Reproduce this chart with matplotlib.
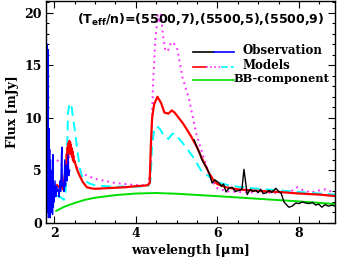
import numpy as np
import matplotlib
matplotlib.use('Agg')
import matplotlib.pyplot as plt
from matplotlib.ticker import MultipleLocator

# Наблюдения (синий участок и чёрный участок)
obs_blue_x = [1.82, 1.83, 1.84, 1.85, 1.86, 1.87, 1.88, 1.89, 1.90, 1.91, 1.92, 1.93,
              1.94, 1.95, 1.96, 1.97, 1.98, 1.99, 2.00, 2.02, 2.04, 2.06, 2.08, 2.10,
              2.12, 2.14, 2.16, 2.18, 2.19, 2.20, 2.22, 2.24, 2.26, 2.28, 2.30, 2.32,
              2.34, 2.36, 2.38]
obs_blue_y = [3.0, 17.0, 1.0, 16.5, 0.5, 9.0, 2.0, 7.0, 0.5, 6.0, 1.0, 5.0,
              1.5, 4.0, 0.8, 6.5, 1.5, 3.5, 2.0, 4.0, 2.5, 3.5, 3.0, 3.2,
              2.5, 4.0, 3.0, 6.5, 7.2, 3.5, 3.8, 3.0, 6.0, 3.5, 5.5, 4.0,
              6.5, 4.5, 5.0]

obs_x = [5.43, 5.5, 5.56, 5.62, 5.68, 5.73, 5.8, 5.87, 5.94, 6.04, 6.1, 6.15, 6.21,
         6.28, 6.36, 6.44, 6.53, 6.6, 6.65, 6.7, 6.73, 6.8, 6.87, 6.94, 7.0, 7.06,
         7.12, 7.19, 7.26, 7.33, 7.43, 7.5, 7.56, 7.63, 7.7, 7.75, 7.83, 7.92, 8.0,
         8.08, 8.16, 8.25, 8.33, 8.41, 8.48, 8.56, 8.64, 8.72, 8.8, 8.88]
obs_y = [7.9, 7.2, 6.7, 6.0, 5.6, 5.3, 4.7, 3.8, 4.1, 3.8, 3.5, 3.7, 2.95,
         3.3, 3.4, 3.0, 3.1, 3.2, 5.1, 3.6, 2.7, 3.2, 3.0, 3.1, 2.9, 3.2,
         2.8, 2.85, 3.1, 2.9, 3.3, 3.0, 2.85, 2.0, 1.7, 1.5, 1.6, 1.9, 1.85,
         2.0, 1.9, 1.85, 1.95, 1.7, 1.8, 1.5, 1.75, 1.6, 1.7, 1.6]

# Модель (5500,7) - красная
red_x = [2.07, 2.12, 2.18, 2.22, 2.26, 2.29, 2.31, 2.32, 2.33, 2.34, 2.35, 2.36, 2.37,
         2.38, 2.39, 2.40, 2.41, 2.42, 2.43, 2.44, 2.45, 2.46, 2.47, 2.48, 2.50,
         2.55, 2.6, 2.7, 2.8, 2.9, 3.0, 3.25, 3.5, 3.75, 4.0, 4.2,
         4.3, 4.34, 4.37, 4.40, 4.45, 4.53, 4.62, 4.70, 4.80, 4.88, 4.95, 5.05, 5.15,
         5.25, 5.36, 5.5, 5.6, 5.7, 5.8, 5.9, 6.0, 6.2, 6.5, 7.0, 7.5, 8.0, 8.5, 8.9]
red_y = [3.6, 3.4, 3.5, 3.2, 4.5, 5.4, 6.6, 5.9, 7.2, 6.3, 7.6, 6.6, 7.8,
         6.9, 7.7, 6.8, 7.4, 6.5, 7.1, 6.3, 6.8, 6.0, 6.4, 5.8, 5.9,
         5.2, 4.7, 3.9, 3.4, 3.3, 3.25, 3.3, 3.35, 3.4, 3.5, 3.55,
         3.6, 3.8, 7.5, 10.0, 11.3, 12.0, 11.4, 10.5, 10.4, 10.7, 10.5, 10.0, 9.5,
         8.9, 8.2, 7.2, 6.3, 5.5, 4.7, 4.1, 3.7, 3.4, 3.2, 3.05, 2.95, 2.8, 2.7, 2.55]

# Модель (5500,5) - голубая
cyan_x = [2.07, 2.12, 2.18, 2.24, 2.28, 2.31, 2.34, 2.37, 2.40, 2.43, 2.46, 2.50, 2.55,
          2.6, 2.65, 2.7, 2.8, 2.9, 3.0, 3.25, 3.5, 4.0, 4.3, 4.36, 4.40, 4.45, 4.52,
          4.6, 4.7, 4.8, 4.9, 5.0, 5.15, 5.4, 5.6, 5.8, 6.0, 6.25, 6.5, 7.0, 7.5, 8.0,
          8.5, 8.9]
cyan_y = [2.6, 2.5, 2.4, 2.2, 3.0, 6.0, 10.5, 11.2, 10.8, 11.0, 10.0, 9.0, 7.5,
          6.0, 4.8, 4.3, 3.9, 3.7, 3.6, 3.5, 3.45, 3.45, 3.5, 4.0, 7.5, 8.8, 9.2,
          8.9, 8.2, 8.0, 8.5, 8.3, 7.6, 6.3, 5.0, 4.4, 3.9, 3.6, 3.45, 3.25, 3.1, 2.95,
          2.8, 2.7]

# Модель (5500,9) - пурпурная
mag_x = [2.07, 2.12, 2.18, 2.24, 2.29, 2.34, 2.38, 2.41, 2.45, 2.5, 2.6, 2.8, 3.0,
         3.25, 3.5, 4.0, 4.3, 4.36, 4.42, 4.48, 4.54, 4.58, 4.62, 4.66, 4.72, 4.78,
         4.87, 4.95, 5.02, 5.14, 5.31, 5.48, 5.68, 5.85, 6.0, 6.25, 6.5, 7.0, 7.5,
         7.8, 7.95, 8.1, 8.3, 8.5, 8.65, 8.9]
mag_y = [6.0, 5.8, 5.5, 5.3, 5.2, 5.5, 6.5, 6.8, 6.3, 5.8, 5.0, 4.5, 4.2,
         4.0, 3.8, 3.6, 3.6, 5.0, 13.0, 17.5, 19.8, 19.0, 19.8, 18.0, 16.5, 16.3,
         17.2, 17.0, 16.5, 13.9, 11.7, 8.5, 6.0, 4.1, 3.3, 3.0, 2.95, 2.9, 2.85,
         3.0, 3.4, 3.1, 2.9, 3.1, 3.2, 2.8]

# Компонента чёрного тела
bb_x = [2.05, 2.25, 2.5, 2.75, 3.0, 3.5, 4.0, 4.5, 5.0, 6.0, 7.0, 8.0, 8.9]
bb_y = [1.15, 1.55, 1.9, 2.2, 2.4, 2.65, 2.8, 2.85, 2.78, 2.55, 2.3, 2.05, 1.8]

serif = 'DejaVu Serif'
magenta = '#ff30ff'
green = '#00e000'

fig = plt.figure(figsize=(3.37, 2.58), dpi=100)
ax = fig.add_axes([0.1365, 0.1357, 0.8575, 0.8603])

ax.plot(bb_x, bb_y, color=green, lw=1.4)
ax.plot(mag_x, mag_y, color=magenta, lw=1.4, ls=(0, (1, 2)))
ax.plot(cyan_x, cyan_y, color='cyan', lw=1.4, ls=(0, (5, 3)))
ax.plot(red_x, red_y, color='red', lw=1.6)
ax.plot(obs_blue_x, obs_blue_y, color='blue', lw=1.0)
ax.plot(obs_x, obs_y, color='black', lw=1.0)

ax.set_xlim(1.8, 8.88)
ax.set_ylim(0, 21.1)
ax.xaxis.set_major_locator(MultipleLocator(2))
ax.xaxis.set_minor_locator(MultipleLocator(0.5))
ax.yaxis.set_major_locator(MultipleLocator(5))
ax.yaxis.set_minor_locator(MultipleLocator(1))
ax.tick_params(which='both', direction='in', top=True, right=True, width=0.8)
ax.tick_params(which='major', length=5, labelsize=9, pad=3)
ax.tick_params(which='minor', length=2.5)
for lab in ax.get_xticklabels() + ax.get_yticklabels():
    lab.set_fontfamily(serif)
    lab.set_fontweight('bold')
for s in ax.spines.values():
    s.set_linewidth(1.0)

ax.set_xlabel(r'wavelength [$\mathbf{\mu}$m]', fontfamily=serif, fontweight='bold',
              fontsize=9, labelpad=1)
ax.set_ylabel('Flux [mJy]', fontfamily=serif, fontweight='bold', fontsize=9, labelpad=4)

ax.text(0.535, 0.915, r'(T$_{\mathbf{eff}}$/n)=(5500,7),(5500,5),(5500,9)',
        transform=ax.transAxes, ha='center', va='center', fontsize=9, fontweight='bold')

# Легенда вручную
t = ax.transAxes
ax.plot([0.508, 0.58], [0.77, 0.77], color='black', lw=1.2, transform=t)
ax.plot([0.58, 0.65], [0.77, 0.77], color='blue', lw=1.2, transform=t)
ax.plot([0.508, 0.555], [0.705, 0.705], color='red', lw=1.2, transform=t)
ax.plot([0.555, 0.605], [0.705, 0.705], color=magenta, lw=1.2, ls=(0, (1, 1.5)), transform=t)
ax.plot([0.605, 0.65], [0.705, 0.705], color='cyan', lw=1.2, ls=(0, (4, 2)), transform=t)
ax.plot([0.508, 0.65], [0.645, 0.645], color=green, lw=1.2, transform=t)
ax.text(0.68, 0.775, 'Observation', transform=t, fontfamily=serif, fontweight='bold',
        fontsize=8.5, va='center')
ax.text(0.68, 0.71, 'Models', transform=t, fontfamily=serif, fontweight='bold',
        fontsize=8.5, va='center')
ax.text(0.648, 0.65, 'BB-component', transform=t, fontfamily=serif, fontweight='bold',
        fontsize=8.2, va='center')

fig.savefig('out.png', dpi=100)
